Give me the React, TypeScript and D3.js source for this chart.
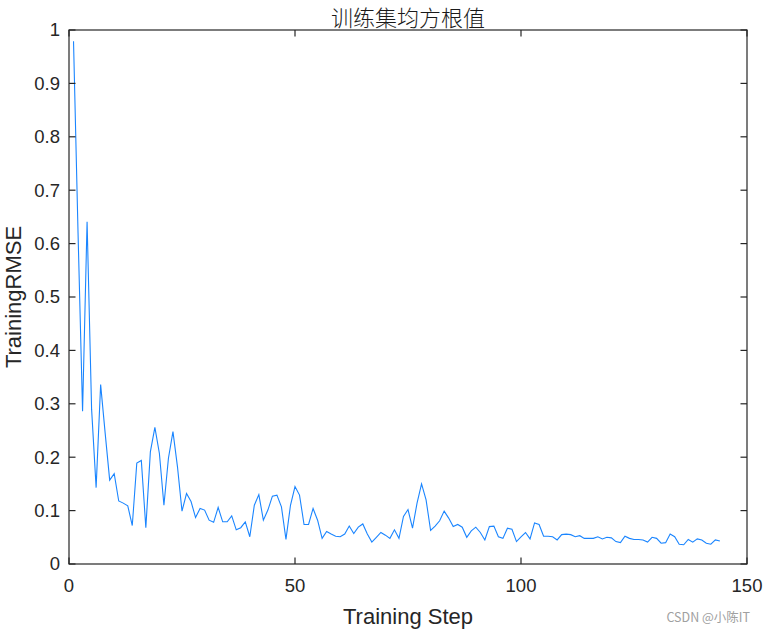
import React from "react";
import * as d3 from "d3";

const rmse: number[] = [
  0.979, 0.62, 0.286, 0.641, 0.29, 0.143, 0.336, 0.245, 0.157, 0.169,
  0.118, 0.114, 0.109, 0.072, 0.189, 0.194, 0.068, 0.21, 0.256, 0.207,
  0.11, 0.198, 0.248, 0.182, 0.099, 0.132, 0.117, 0.087, 0.104, 0.101,
  0.082, 0.078, 0.106, 0.079, 0.079, 0.09, 0.064, 0.068, 0.079, 0.051,
  0.11, 0.13, 0.082, 0.101, 0.127, 0.129, 0.107, 0.046, 0.11, 0.145,
  0.129, 0.074, 0.074, 0.104, 0.082, 0.048, 0.061, 0.056, 0.052, 0.051,
  0.056, 0.071, 0.057, 0.069, 0.075, 0.056, 0.041, 0.05, 0.059, 0.054,
  0.048, 0.064, 0.048, 0.089, 0.102, 0.067, 0.114, 0.15, 0.12, 0.063,
  0.071, 0.081, 0.099, 0.086, 0.07, 0.074, 0.069, 0.05, 0.062, 0.069,
  0.059, 0.045, 0.07, 0.071, 0.051, 0.048, 0.067, 0.065, 0.042, 0.051,
  0.059, 0.047, 0.077, 0.074, 0.052, 0.052, 0.051, 0.045, 0.055, 0.056,
  0.055, 0.051, 0.053, 0.048, 0.048, 0.048, 0.051, 0.047, 0.05, 0.049,
  0.042, 0.04, 0.052, 0.048, 0.046, 0.046, 0.045, 0.041, 0.05, 0.048,
  0.039, 0.04, 0.056, 0.051, 0.037, 0.036, 0.046, 0.041, 0.047, 0.045,
  0.039, 0.037, 0.045, 0.043,
];
const xTicks: number[] = [0, 50, 100, 150];
const yTicks: number[] = [0, 0.1, 0.2, 0.3, 0.4, 0.5, 0.6, 0.7, 0.8, 0.9, 1];
const titleText = "训练集均方根值";
const xLabel = "Training Step";
const yLabel = "TrainingRMSE";
const watermark = "CSDN @小陈IT";

export default function App() {
  const W = 766, H = 632;
  const left = 69, right = 747, top = 30, bottom = 564;
  const x = d3.scaleLinear().domain([0, 150]).range([left, right]);
  const y = d3.scaleLinear().domain([0, 1]).range([bottom, top]);
  const line = d3
    .line<number>()
    .x((_, i) => x(i + 1))
    .y((d) => y(d));
  const axisColor = "#262626";
  const font = "'Liberation Sans', Arial, Helvetica, sans-serif";
  const tl = 6.5;
  return (
    <svg
      width={W}
      height={H}
      style={{ position: "absolute", left: 0, top: 0, background: "#fff" }}
    >
      <rect x={0} y={0} width={W} height={H} fill="#fff" />
      <path d={line(rmse) || ""} fill="none" stroke="#1a85ff" strokeWidth={1.1} />
      <rect
        x={left}
        y={top}
        width={right - left}
        height={bottom - top}
        fill="none"
        stroke={axisColor}
        strokeWidth={1.2}
      />
      {xTicks.map((t) => (
        <g key={"x" + t}>
          <line x1={x(t)} x2={x(t)} y1={bottom} y2={bottom - tl} stroke={axisColor} strokeWidth={1.2} />
          <line x1={x(t)} x2={x(t)} y1={top} y2={top + tl} stroke={axisColor} strokeWidth={1.2} />
          <text
            x={x(t)}
            y={592}
            textAnchor="middle"
            fontFamily={font}
            fontSize={18.5}
            fill={axisColor}
          >
            {t}
          </text>
        </g>
      ))}
      {yTicks.map((t) => (
        <g key={"y" + t}>
          <line x1={left} x2={left + tl} y1={y(t)} y2={y(t)} stroke={axisColor} strokeWidth={1.2} />
          <line x1={right} x2={right - tl} y1={y(t)} y2={y(t)} stroke={axisColor} strokeWidth={1.2} />
          <text
            x={60}
            y={y(t)}
            dy="0.35em"
            textAnchor="end"
            fontFamily={font}
            fontSize={18.5}
            fill={axisColor}
          >
            {d3.format("~g")(t)}
          </text>
        </g>
      ))}
      <text
        x={(left + right) / 2}
        y={624}
        textAnchor="middle"
        fontFamily={font}
        fontSize={22}
        fill={axisColor}
      >
        {xLabel}
      </text>
      <text
        transform={`translate(21, ${(top + bottom) / 2}) rotate(-90)`}
        textAnchor="middle"
        fontFamily={font}
        fontSize={22}
        fill={axisColor}
      >
        {yLabel}
      </text>
      <text
        x={(left + right) / 2}
        y={25.5}
        textAnchor="middle"
        fontFamily="'Noto Sans CJK SC', sans-serif"
        fontSize={22}
        fontWeight={300}
        fill="#1a1a1a"
      >
        {titleText}
      </text>
      <text
        x={750}
        y={622}
        textAnchor="end"
        fontFamily="'Noto Sans CJK SC', 'Liberation Sans', sans-serif"
        fontSize={12.5}
        fill="#a0a0a0"
      >
        {watermark}
      </text>
    </svg>
  );
}
